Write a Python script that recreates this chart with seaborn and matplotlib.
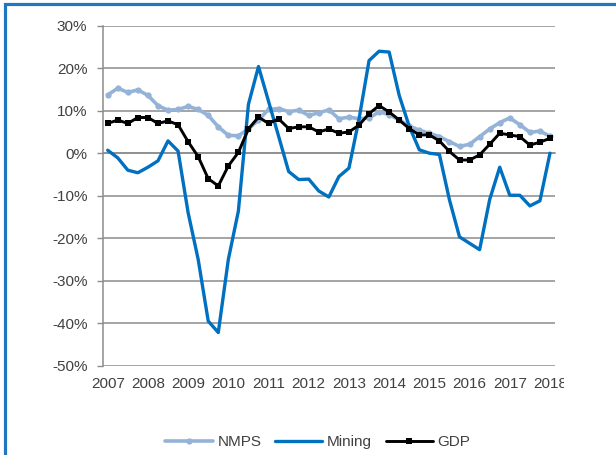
import numpy as np
import pandas as pd
import seaborn as sns
import matplotlib
matplotlib.use("Agg")
from matplotlib import pyplot as plt
from matplotlib.ticker import FuncFormatter, FixedLocator
from matplotlib.transforms import Bbox
from matplotlib.patches import Rectangle

# quarterly growth rates, 2007Q1 .. 2018Q1
years = [str(y) for y in range(2007, 2019)]
nmps = [13.7, 15.3, 14.3, 14.9, 13.6, 11.2, 10.1, 10.3, 11.0, 10.3, 8.9, 6.2,
        4.2, 4.1, 5.7, 7.8, 10.3, 10.5, 9.8, 10.1, 8.9, 9.5, 10.2, 8.1,
        8.5, 8.1, 8.3, 9.7, 9.1, 7.8, 6.4, 5.4, 4.7, 3.9, 2.7, 1.6,
        2.1, 3.9, 5.7, 7.2, 8.3, 6.7, 4.9, 5.2, 4.0]
mining = [0.7, -1.1, -4.0, -4.6, -3.3, -1.8, 2.9, 0.5, -14.0, -25.0, -39.5, -42.2,
          -25.0, -13.6, 11.5, 20.4, 12.2, 4.0, -4.3, -6.2, -6.1, -8.9, -10.3, -5.5,
          -3.5, 8.0, 21.8, 24.0, 23.8, 13.6, 6.3, 0.8, 0.0, -0.3, -11.0, -19.7,
          -21.2, -22.7, -10.9, -3.3, -9.9, -9.9, -12.4, -11.2, 0.0]
gdp = [7.0, 7.8, 7.0, 8.4, 8.4, 7.0, 7.6, 6.7, 2.7, -0.8, -6.0, -7.7,
       -3.0, 0.2, 5.7, 8.5, 7.0, 8.1, 5.8, 6.2, 6.2, 5.0, 5.7, 4.7,
       5.0, 6.6, 9.3, 11.2, 9.7, 7.8, 5.8, 4.3, 4.3, 2.9, 0.4, -1.6,
       -1.6, -0.4, 2.1, 4.7, 4.3, 3.9, 1.9, 2.6, 3.5]

df = pd.DataFrame({'q': np.arange(len(gdp)), 'NMPS': nmps, 'Mining': mining, 'GDP': gdp})

sns.set_style("white")
plt.rcParams['font.family'] = ['Liberation Sans', 'DejaVu Sans']
txt = '#404040'
grid = '#8c8c8c'

fig = plt.figure(figsize=(6.16, 4.55), dpi=100)
ax = fig.add_axes([0.1667, 0.1963, 0.7343, 0.7472])

sns.lineplot(data=df, x='q', y='NMPS', ax=ax, color='#95B3D7', lw=2.6,
             marker='o', markersize=4.5, markeredgewidth=0, label='NMPS', zorder=3)
sns.lineplot(data=df, x='q', y='Mining', ax=ax, color='#0070C0', lw=2.4,
             label='Mining', zorder=4)
sns.lineplot(data=df, x='q', y='GDP', ax=ax, color='black', lw=2.1,
             marker='s', markersize=4.5, markeredgewidth=0, label='GDP', zorder=5)

ax.set_xlim(-0.5, len(gdp) - 0.5)
ax.set_ylim(-50, 30)
ax.set_yticks(range(-50, 31, 10))
ax.yaxis.set_major_formatter(FuncFormatter(lambda v, p: f'{int(v)}%'))
ax.yaxis.grid(True, color=grid, lw=1.1)
ax.set_axisbelow(True)
ax.set_xlabel('')
ax.set_ylabel('')

for s in ['top', 'right']:
    ax.spines[s].set_visible(False)
ax.spines['left'].set_color(grid)
ax.spines['left'].set_linewidth(1.1)
ax.spines['bottom'].set_position(('data', 0))
ax.spines['bottom'].set_color(grid)
ax.spines['bottom'].set_linewidth(1.1)

# category tick marks along the zero line
ax.set_xticks([])
ax.xaxis.set_minor_locator(FixedLocator(np.arange(-0.5, len(gdp), 1.0)))
ax.tick_params(axis='x', which='minor', direction='out', length=3, width=1, color=grid)
ax.tick_params(axis='y', direction='out', length=4, width=1, color=grid,
               labelsize=11, labelcolor=txt, pad=7, left=True)

# year labels at the bottom of the plot
sec = ax.secondary_xaxis('bottom')
sec.set_xticks(np.arange(0, len(gdp), 4))
sec.set_xticklabels(years)
sec.tick_params(length=0, labelsize=11, labelcolor=txt, pad=8)
sec.spines['bottom'].set_visible(False)
fig.canvas.draw()
clip = Bbox.from_extents(0, 0, 564, 455)
for t in sec.get_xticklabels():
    t.set_clip_box(clip)
    t.set_clip_on(True)

ax.get_legend().remove()
h, l = ax.get_legend_handles_labels()
fig.legend(h, l, loc='center', bbox_to_anchor=(318 / 616, 1 - 442 / 455), ncol=3,
           frameon=False, fontsize=11, labelcolor=txt, handlelength=3.1,
           handletextpad=0.3, columnspacing=0.9, numpoints=1)

# blue frame (top and left edges visible)
fig.add_artist(Rectangle((4.5 / 616, -0.1), 1.2, 1.1 - 4.5 / 455, transform=fig.transFigure,
                         fill=False, edgecolor='#2176C0', lw=2.3))

fig.savefig('out.png', dpi=100)
